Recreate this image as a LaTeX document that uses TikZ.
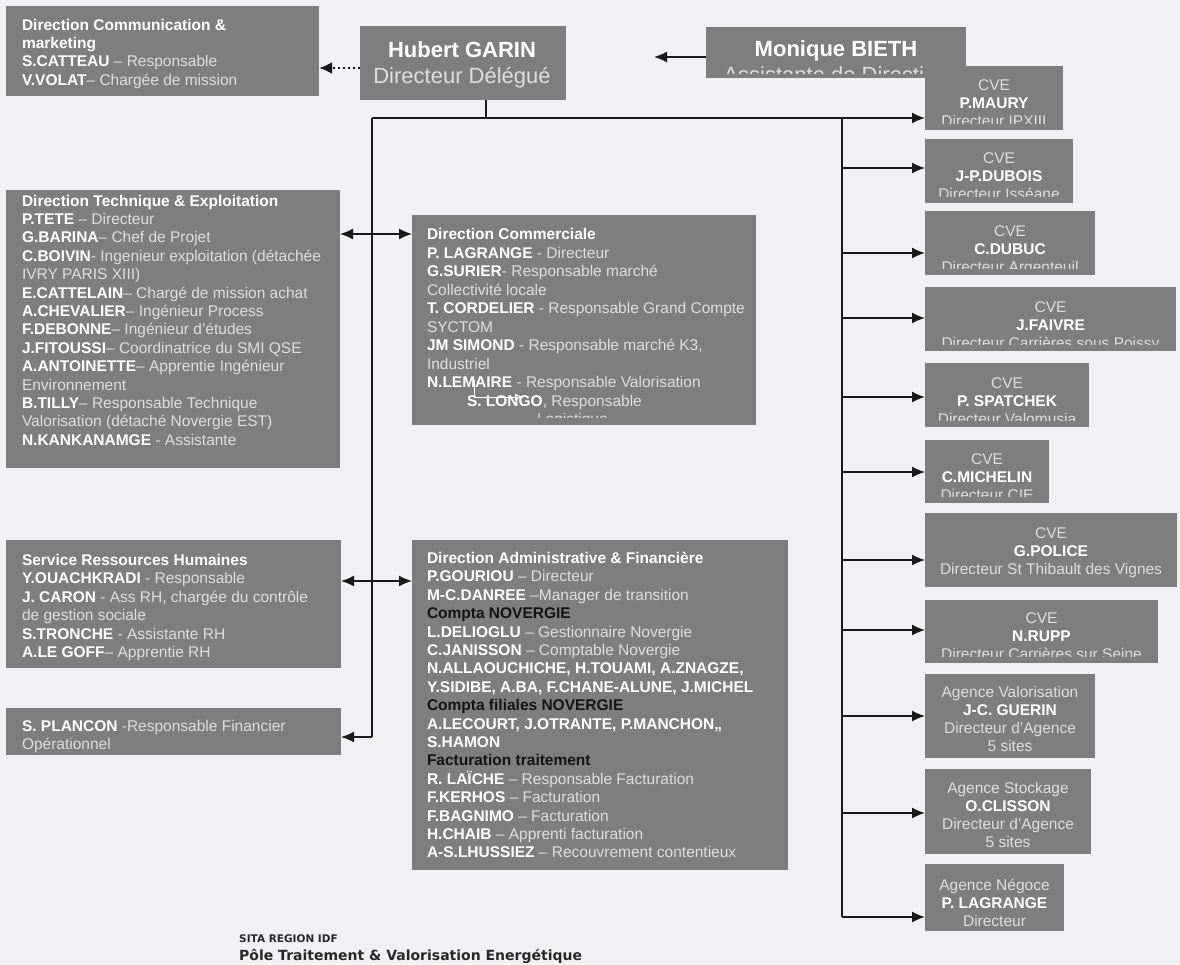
\documentclass[tikz,border=0pt]{standalone}
\usepackage{fontspec}
\setmainfont{Liberation Sans}
\newfontfamily\footfont{DejaVu Sans}
\usetikzlibrary{arrows.meta,fit}
\definecolor{bgcol}{RGB}{241,241,243}
\definecolor{boxgray}{RGB}{126,126,126}
\definecolor{rolecol}{RGB}{222,222,222}
\definecolor{darktxt}{RGB}{20,20,20}
\definecolor{linecol}{RGB}{25,25,25}
\definecolor{foottxt}{RGB}{40,40,40}
\newcommand\nm[1]{{\bfseries\color{white}#1}}
\newcommand\dk[1]{{\bfseries\color{darktxt}#1}}
\newcommand\fst{\rule{0pt}{12pt}}
\newcommand\fstb{\rule{0pt}{16pt}}
\begin{document}
\begin{tikzpicture}[x=1pt,y=-1pt,
  box/.style={fill=boxgray,draw=none,inner sep=0pt,outer sep=0pt},
  txt/.style={inner sep=0pt,outer sep=0pt,anchor=north west,align=left,text=rolecol,font=\fontsize{15.5}{18.4}\selectfont},
  ctxt/.style={inner sep=0pt,outer sep=0pt,anchor=north,align=center,text=rolecol,font=\fontsize{15.5}{18.2}\selectfont},
  bigtxt/.style={inner sep=0pt,outer sep=0pt,anchor=north,align=center,text=rolecol,font=\fontsize{22}{26}\selectfont},
  foot/.style={inner sep=0pt,anchor=base west,text=foottxt,font=\footfont\bfseries},
  bigtip/.tip={Latex[length=13pt,width=11pt]},
  conn/.style={draw=linecol,line width=1.5pt},
  arr/.style={conn,-bigtip},
  dbl/.style={conn,bigtip-bigtip},
  dotarr/.style={draw=linecol,line width=2.5pt,dash pattern=on 2.5pt off 2.5pt,-{Latex[length=13pt,width=12pt]}},
  wharr/.style={draw=white,line width=1pt,-{Latex[open,length=8pt,width=7pt]}}
]
\useasboundingbox (0,0) rectangle (1180,964);
\fill[bgcol] (0,0) rectangle (1180,964);

% ---------- top ----------
\node[box,fit={(6,6)(319,96)}] (comm) {};
\node[txt] (commt) at (22,18) {\fst\nm{Direction Communication \&}\\\nm{marketing}\\\nm{S.CATTEAU} – Responsable\\\nm{V.VOLAT}– Chargée de mission};

\node[box,fit={(360,26)(566,100)}] (hub) {};
\node[bigtxt] (hubt) at (462,41) {\fstb\nm{Hubert GARIN}\\Directeur Délégué};

\node[box,fit={(706,27)(966,78)}] (mon) {};
\begin{scope}\clip (mon.north west) rectangle ([yshift=5pt]mon.south east);
\node[bigtxt] (mont) at (836,40) {\fstb\nm{Monique BIETH}\\Assistante de Direction};
\end{scope}

% ---------- right column ----------
\newcommand\cve[8]{%
  \node[box,fit={(925,#2)(#3,#4)}] (#1) {};
  \begin{scope}\clip (#1.north west) rectangle ([yshift=#5pt]#1.south east);
  \node[ctxt] (#1t) at ({(925+#3)/2},{#6-12}) {\fst #7\\#8};
  \end{scope}}
\cve{maury}{66}{1063}{130}{7}{90}{CVE}{\nm{P.MAURY}\\Directeur IPXIII}
\cve{dubois}{139}{1073}{203}{7}{163}{CVE}{\nm{J-P.DUBOIS}\\Directeur Isséane}
\cve{dubuc}{211}{1095}{275}{7}{236}{CVE}{\nm{C.DUBUC}\\Directeur Argenteuil}
\cve{faivre}{287}{1176}{351}{7}{312}{CVE}{\nm{J.FAIVRE}\\Directeur Carrières sous Poissy}
\cve{spat}{363}{1089}{427}{7}{388}{CVE}{\nm{P. SPATCHEK}\\Directeur Valomusia}
\cve{mich}{440}{1049}{503}{7}{464}{CVE}{\nm{C.MICHELIN}\\Directeur CIE}
\cve{police}{513}{1177}{587}{0}{538}{CVE}{\nm{G.POLICE}\\Directeur St Thibault des Vignes}
\cve{rupp}{600}{1158}{663}{7}{623}{CVE}{\nm{N.RUPP}\\Directeur Carrières sur Seine}
\cve{guerin}{674}{1095}{758}{6}{697}{Agence Valorisation}{\nm{J-C. GUERIN}\\Directeur d'Agence\\5 sites}
\cve{cliss}{769}{1091}{854}{6}{793}{Agence Stockage}{\nm{O.CLISSON}\\Directeur d'Agence\\5 sites}
\cve{plag}{864}{1064}{931}{0}{890}{Agence Négoce}{\nm{P. LAGRANGE}\\Directeur}

% ---------- left column ----------
\node[box,fit={(6,190)(340,468)}] (tech) {};
\node[txt] (techt) at (22,194) {\fst\nm{Direction Technique \& Exploitation}\\
\nm{P.TETE} – Directeur\\
\nm{G.BARINA}– Chef de Projet\\
\nm{C.BOIVIN}- Ingenieur exploitation (détachée\\
IVRY PARIS XIII)\\
\nm{E.CATTELAIN}– Chargé de mission achat\\
\nm{A.CHEVALIER}– Ingénieur Process\\
\nm{F.DEBONNE}– Ingénieur d'études\\
\nm{J.FITOUSSI}– Coordinatrice du SMI QSE\\
\nm{A.ANTOINETTE}– Apprentie Ingénieur\\
Environnement\\
\nm{B.TILLY}– Responsable Technique\\
Valorisation (détaché Novergie EST)\\
\nm{N.KANKANAMGE} - Assistante};

\node[box,fit={(6,540)(341,668)}] (rh) {};
\node[txt] (rht) at (22,553.5) {\fst\nm{Service Ressources Humaines}\\
\nm{Y.OUACHKRADI} - Responsable\\
\nm{J. CARON} - Ass RH, chargée du contrôle\\
de gestion sociale\\
\nm{S.TRONCHE} - Assistante RH\\
\nm{A.LE GOFF}– Apprentie RH};

\node[box,fit={(6,708)(341,755)}] (planc) {};
\begin{scope}\clip (planc.north west) rectangle (planc.south east);
\node[txt] (planct) at (22,719) {\fst\nm{S. PLANCON} -Responsable Financier\\Opérationnel};
\end{scope}

% ---------- middle column ----------
\node[box,fit={(412,215)(756,425)}] (comc) {};
\begin{scope}\clip (comc.north west) rectangle ([yshift=8pt]comc.south east);
\node[txt,font=\fontsize{15.5}{18.5}\selectfont] (comct) at (427,227.5) {\fst\nm{Direction Commerciale}\\
\nm{P. LAGRANGE} - Directeur\\
\nm{G.SURIER}- Responsable marché\\
Collectivité locale\\
\nm{T. CORDELIER} - Responsable Grand Compte\\
SYCTOM\\
\nm{JM SIMOND} - Responsable marché K3,\\
Industriel\\
\nm{N.LEMAIRE} - Responsable Valorisation\\
\hspace*{40pt}\nm{S. LONGO}, Responsable\\
\hspace*{110pt}Logistique};
\end{scope}
\coordinate (wa1) at (474,380);
\coordinate (wa2) at (474,397);
\coordinate (wa3) at (523,397);
\draw[wharr] (wa1) -- (wa2) -- (wa3);

\node[box,fit={(412,540)(788,870)}] (adm) {};
\node[txt] (admt) at (427,551.5) {\fst\nm{Direction Administrative \& Financière}\\
\nm{P.GOURIOU} – Directeur\\
\nm{M-C.DANREE} –Manager de transition\\
\dk{Compta NOVERGIE}\\
\nm{L.DELIOGLU} – Gestionnaire Novergie\\
\nm{C.JANISSON} – Comptable Novergie\\
\nm{N.ALLAOUCHICHE, H.TOUAMI, A.ZNAGZE,}\\
\nm{Y.SIDIBE, A.BA, F.CHANE-ALUNE, J.MICHEL}\\
\dk{Compta filiales NOVERGIE}\\
\nm{A.LECOURT, J.OTRANTE, P.MANCHON,,}\\
\nm{S.HAMON}\\
\dk{Facturation traitement}\\
\nm{R. LAÏCHE} – Responsable Facturation\\
\nm{F.KERHOS} – Facturation\\
\nm{F.BAGNIMO} – Facturation\\
\nm{H.CHAIB} – Apprenti facturation\\
\nm{A-S.LHUSSIEZ} – Recouvrement contentieux};

% ---------- footer ----------
\node[foot,font=\footfont\bfseries\fontsize{10.5}{14}\selectfont] (f1) at (239,942) {SITA REGION IDF};
\node[foot,font=\footfont\bfseries\fontsize{14}{18}\selectfont] (f2) at (239,960) {Pôle Traitement \& Valorisation Energétique};

% ---------- connectors ----------
\coordinate (mtip) at (654,57);
\draw[arr] (mon.west |- mtip) -- (mtip);
\coordinate (dy) at (0,68);
\draw[dotarr] (hub.west |- dy) -- (comm.east |- dy);

\coordinate (hb) at (486,118);
\coordinate (lbtop) at (372,118);
\coordinate (rbtop) at (842,118);
\coordinate (lbbot) at (372,737);
\coordinate (rbbot) at (842,917);
\draw[conn] (hb |- hub.south) -- (hb);
\draw[arr] (lbtop) -- (lbtop -| maury.west);
\draw[conn] (lbtop) -- (lbbot);
\draw[conn] (rbtop) -- (rbbot);

\coordinate (l1) at (372,234);
\coordinate (l2) at (372,581);
\draw[dbl] (l1 -| tech.east) -- (l1 -| comc.west);
\draw[dbl] (l2 -| rh.east) -- (l2 -| adm.west);
\draw[arr] (lbbot) -- (lbbot -| planc.east);

\coordinate (r2) at (842,168);
\coordinate (r3) at (842,253);
\coordinate (r4) at (842,318);
\coordinate (r5) at (842,397);
\coordinate (r6) at (842,472);
\coordinate (r7) at (842,560);
\coordinate (r8) at (842,630);
\coordinate (r9) at (842,716);
\coordinate (r10) at (842,813);
\draw[arr] (r2) -- (r2 -| dubois.west);
\draw[arr] (r3) -- (r3 -| dubuc.west);
\draw[arr] (r4) -- (r4 -| faivre.west);
\draw[arr] (r5) -- (r5 -| spat.west);
\draw[arr] (r6) -- (r6 -| mich.west);
\draw[arr] (r7) -- (r7 -| police.west);
\draw[arr] (r8) -- (r8 -| rupp.west);
\draw[arr] (r9) -- (r9 -| guerin.west);
\draw[arr] (r10) -- (r10 -| cliss.west);
\draw[arr] (rbbot) -- (rbbot -| plag.west);
\end{tikzpicture}
\end{document}
